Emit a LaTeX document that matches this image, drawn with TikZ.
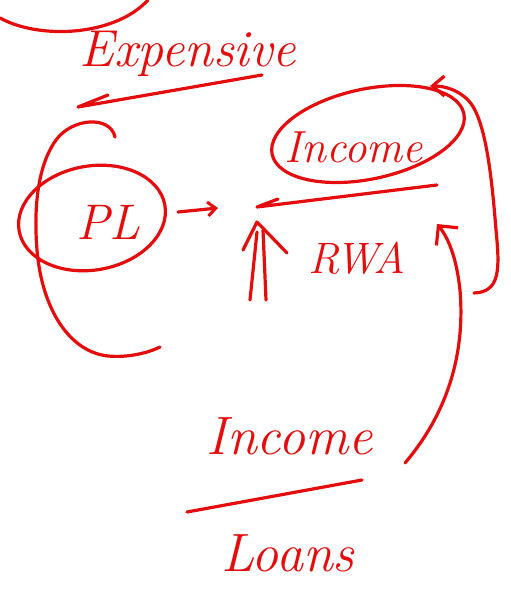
\documentclass[tikz,border=0pt]{standalone}
\usetikzlibrary{arrows.meta}
\definecolor{handred}{RGB}{228,12,12}
\begin{document}
\begin{tikzpicture}[x=1pt,y=-1pt,
  ink/.style={draw=handred,line width=3.2pt,line cap=round,line join=round},
  barb/.style={-{Straight Barb[length=12pt,width=20pt,line width=3.2pt]}},
  word/.style={text=handred,inner sep=0pt},
  sz/.style={font=\fontsize{#1}{#1}\selectfont\itshape}]
\useasboundingbox (0,0) rectangle (511,589);

% labels
\node[word,sz=52] (exp) at (188,54) {Expensive};
\node[word,sz=50] (pl) at (108,222) {PL};
\node[word,sz=45] (inc) at (354,147) {Income};
\node[word,sz=44] (rwa) at (357,258) {RWA};
\node[word,sz=54] (inc2) at (290,436) {Income};
\node[word,sz=54] (loans) at (288,553) {Loans};

% partial loop at the top left corner
\draw[ink] (0,18) .. controls (40,40) and (115,36) .. (148,0);

% arrow under Expensive
\coordinate (e1) at (262,75);
\coordinate (e2) at (78,107);
\draw[ink] (e1) -- (e2) -- (108,95);

% ring around PL and the bracket enclosing it
\draw[ink,rotate around={10:(92,218)}] (92,218) ellipse [x radius=74, y radius=52];
\draw[ink] (115,137) .. controls (110,115) and (72,118) .. (56,140)
  .. controls (40,162) and (33,200) .. (37,250)
  .. controls (42,310) and (70,352) .. (108,356)
  .. controls (130,358) and (150,352) .. (160,347);

% arrow from PL to the ratio
\coordinate (p1) at (178,212);
\coordinate (p2) at (218,208);
\draw[ink,-{Straight Barb[length=8pt,width=14pt,line width=3pt]}] (p1) -- (p2);

% ring around Income and its fraction bar
\draw[ink,rotate around={12:(368,134)}] (368,134) ellipse [x radius=98, y radius=45];
\coordinate (b1) at (437,185);
\coordinate (b2) at (257,207);
\draw[ink] (b1) -- (b2) -- (278,199);

% double arrow beside RWA
\coordinate (d1) at (250,300);
\coordinate (d2) at (257,232);
\coordinate (d3) at (266,300);
\coordinate (d4) at (263,230);
\draw[ink] (d1) -- (d2);
\draw[ink] (d3) -- (d4);
\draw[ink] (243,250) -- (257,222) -- (287,253);

% loop on the right back up to Income
\coordinate (r1) at (474,293);
\coordinate (r2) at (430,86);
\draw[ink,barb] (r1) .. controls (500,292) and (500,270) .. (496,230)
  .. controls (492,180) and (486,118) .. (468,100)
  .. controls (458,90) and (445,86) .. (r2);

% arrow from Income/Loans up to RWA
\coordinate (u1) at (405,463);
\coordinate (u2) at (437,224);
\draw[ink,-{Straight Barb[length=14pt,width=28pt,line width=3.2pt]}] (u1) .. controls (450,410) and (465,350) .. (460,290)
  .. controls (457,262) and (450,240) .. (u2);

% lower fraction bar
\coordinate (f1) at (362,480);
\coordinate (f2) at (187,512);
\draw[ink] (f1) -- (f2);
\end{tikzpicture}
\end{document}
